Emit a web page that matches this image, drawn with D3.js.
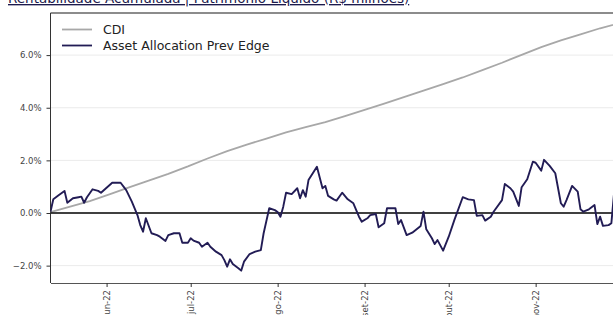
<!DOCTYPE html>
<html>
<head>
<meta charset="utf-8">
<script src="https://cdn.jsdelivr.net/npm/d3@7/dist/d3.min.js"></script>
<style>
    body { margin: 0; background: #fff; }
    svg { display: block; font-family: "DejaVu Sans", Verdana, sans-serif; }
</style>
</head>
<body>
<svg id="chart" width="613" height="315"></svg>
<script>
const title = "Rentabilidade Acumulada | Patrimônio Líquido (R$ milhões)";
const seriesNames = ["CDI", "Asset Allocation Prev Edge"];

// CDI, weekly reading
const cdiDates = ["2022-05-12", "2022-05-19", "2022-05-26", "2022-06-02", "2022-06-09", "2022-06-16",
    "2022-06-23", "2022-06-30", "2022-07-07", "2022-07-14", "2022-07-21", "2022-07-28", "2022-08-04",
    "2022-08-11", "2022-08-18", "2022-08-25", "2022-09-01", "2022-09-08", "2022-09-15", "2022-09-22",
    "2022-09-29", "2022-10-06", "2022-10-13", "2022-10-20", "2022-10-27", "2022-11-03", "2022-11-10",
    "2022-11-17", "2022-11-24", "2022-12-01"];
const cdiValues = [0.03, 0.24, 0.45, 0.71, 0.97, 1.23, 1.49, 1.77, 2.07, 2.35, 2.60, 2.83, 3.06,
    3.26, 3.45, 3.68, 3.92, 4.16, 4.40, 4.65, 4.90, 5.15, 5.43, 5.71, 6.01, 6.30, 6.56, 6.79, 7.02, 7.22];

// Asset Allocation Prev Edge
const fundDates = ["2022-05-12", "2022-05-13", "2022-05-15", "2022-05-17", "2022-05-18", "2022-05-20",
    "2022-05-22", "2022-05-23", "2022-05-24", "2022-05-25", "2022-05-27", "2022-05-29", "2022-05-30",
    "2022-06-01", "2022-06-03", "2022-06-04", "2022-06-06", "2022-06-08", "2022-06-10", "2022-06-12",
    "2022-06-13", "2022-06-14", "2022-06-15", "2022-06-17", "2022-06-19", "2022-06-20", "2022-06-22",
    "2022-06-23", "2022-06-25", "2022-06-27", "2022-06-28", "2022-06-30", "2022-07-01", "2022-07-02",
    "2022-07-04", "2022-07-05", "2022-07-07", "2022-07-08", "2022-07-10", "2022-07-12", "2022-07-13",
    "2022-07-14", "2022-07-15", "2022-07-16", "2022-07-18", "2022-07-19", "2022-07-20", "2022-07-22",
    "2022-07-24", "2022-07-26", "2022-07-27", "2022-07-29", "2022-07-31", "2022-08-01", "2022-08-02",
    "2022-08-03", "2022-08-04", "2022-08-06", "2022-08-08", "2022-08-09", "2022-08-10", "2022-08-11",
    "2022-08-12", "2022-08-15", "2022-08-17", "2022-08-18", "2022-08-19", "2022-08-21", "2022-08-22",
    "2022-08-24", "2022-08-26", "2022-08-28", "2022-08-30", "2022-08-31", "2022-09-02", "2022-09-03",
    "2022-09-05", "2022-09-06", "2022-09-08", "2022-09-09", "2022-09-12", "2022-09-13", "2022-09-14",
    "2022-09-16", "2022-09-18", "2022-09-21", "2022-09-22", "2022-09-23", "2022-09-25", "2022-09-26",
    "2022-09-27", "2022-09-29", "2022-10-01", "2022-10-03", "2022-10-06", "2022-10-08", "2022-10-10",
    "2022-10-11", "2022-10-13", "2022-10-14", "2022-10-16", "2022-10-17", "2022-10-20", "2022-10-21",
    "2022-10-23", "2022-10-24", "2022-10-26", "2022-10-27", "2022-10-29", "2022-10-31", "2022-11-01",
    "2022-11-03", "2022-11-04", "2022-11-06", "2022-11-08", "2022-11-10", "2022-11-11", "2022-11-12",
    "2022-11-14", "2022-11-16", "2022-11-17", "2022-11-18", "2022-11-20", "2022-11-22", "2022-11-23",
    "2022-11-24", "2022-11-25", "2022-11-27", "2022-11-28", "2022-11-29", "2022-11-30"];
const fundValues = [0.05, 0.52, 0.68, 0.84, 0.39, 0.56, 0.60, 0.62, 0.39, 0.60, 0.90, 0.84, 0.77,
    0.96, 1.15, 1.15, 1.15, 0.87, 0.43, -0.08, -0.46, -0.71, -0.20, -0.77, -0.84, -0.90, -1.06,
    -0.84, -0.77, -0.77, -1.13, -1.13, -0.96, -1.05, -1.13, -1.28, -1.13, -1.28, -1.47, -1.60, -1.79,
    -2.04, -1.76, -1.94, -2.10, -2.19, -1.85, -1.56, -1.47, -1.41, -0.77, 0.18, 0.11, 0.04, -0.14,
    0.24, 0.77, 0.72, 0.94, 0.56, 0.87, 0.62, 1.25, 1.76, 0.94, 1.03, 0.65, 0.52, 0.47,
    0.77, 0.52, 0.37, -0.14, -0.33, -0.20, -0.08, -0.04, -0.54, -0.39, 0.18, 0.18, -0.42, -0.27,
    -0.84, -0.75, -0.49, 0.05, -0.62, -0.96, -1.18, -1.03, -1.43, -0.90, -0.27, 0.60, 0.52, 0.49,
    -0.11, -0.08, -0.29, -0.14, 0.05, 0.49, 1.10, 0.94, 0.81, 0.27, 0.98, 1.28, 1.95, 1.91,
    1.61, 2.02, 1.79, 1.51, 0.37, 0.24, 0.49, 1.03, 0.81, 0.14, 0.05, 0.14, 0.30, -0.42,
    -0.14, -0.49, -0.46, -0.39, 0.80, 1.30];

const yTicks = [-2, 0, 2, 4, 6];
const monthTicks = ["2022-06-01", "2022-07-01", "2022-08-01", "2022-09-01", "2022-10-01", "2022-11-01"];
const monthLabels = ["jun-22", "jul-22", "ago-22", "set-22", "out-22", "nov-22"];

const parseDate = d3.timeParse("%Y-%m-%d");
const cdi = cdiDates.map((d, i) => ({ date: parseDate(d), value: cdiValues[i] }));
const fund = fundDates.map((d, i) => ({ date: parseDate(d), value: fundValues[i] }));

const plotLeft = 50.5, plotRight = 613, plotTop = 13, plotBottom = 283;

const svg = d3.select("#chart");

const x = d3.scaleTime()
    .domain([parseDate("2022-05-12"), new Date(2022, 10, 28, 14)])
    .range([plotLeft, plotRight]);

const y = d3.scaleLinear()
    .domain([-2.66, 7.6])
    .range([plotBottom, plotTop]);

// title (cropped at the top)
svg.append("text")
    .attr("x", 8)
    .attr("y", 3)
    .attr("fill", "#1c1a4d")
    .attr("font-size", 13.5)
    .attr("text-decoration", "underline")
    .text(title);

svg.append("defs").append("clipPath")
    .attr("id", "plot")
    .append("rect")
    .attr("x", plotLeft)
    .attr("y", plotTop)
    .attr("width", plotRight - plotLeft)
    .attr("height", plotBottom - plotTop);

// gridlines
svg.append("g")
    .selectAll("line")
    .data(yTicks.filter(t => t !== 0))
    .join("line")
    .attr("x1", plotLeft)
    .attr("x2", plotRight)
    .attr("y1", d => y(d))
    .attr("y2", d => y(d))
    .attr("stroke", "#ebebeb")
    .attr("stroke-width", 1);

// frame top
svg.append("line")
    .attr("x1", plotLeft).attr("x2", plotRight)
    .attr("y1", plotTop).attr("y2", plotTop)
    .attr("stroke", "#8c8c8c")
    .attr("stroke-width", 2);

// y axis
const yAxis = svg.append("g")
    .attr("transform", `translate(${plotLeft},0)`)
    .call(d3.axisLeft(y).tickValues(yTicks).tickSize(4).tickSizeOuter(0)
        .tickFormat(d => d3.format(".1f")(d) + "%"));
yAxis.select(".domain").attr("stroke", "#333").attr("d", `M0,${plotTop}V${plotBottom}`);
yAxis.selectAll(".tick line").attr("stroke", "#333");
yAxis.selectAll(".tick text")
    .attr("fill", "#444")
    .attr("font-family", "DejaVu Sans, sans-serif")
    .attr("font-size", 8.5)
    .attr("x", -9);

// x axis
const xAxis = svg.append("g")
    .attr("transform", `translate(0,${plotBottom})`)
    .call(d3.axisBottom(x).tickValues(monthTicks.map(parseDate)).tickSize(4).tickSizeOuter(0)
        .tickFormat((d, i) => monthLabels[i]));
xAxis.select(".domain").attr("stroke", "#555");
xAxis.selectAll(".tick line").attr("stroke", "#333");
xAxis.selectAll(".tick text")
    .attr("fill", "#444")
    .attr("font-family", "DejaVu Sans, sans-serif")
    .attr("font-size", 8.5)
    .attr("transform", "rotate(-90)")
    .attr("x", -7)
    .attr("y", 0)
    .attr("dy", "0.32em")
    .style("text-anchor", "end");

const line = d3.line()
    .x(d => x(d.date))
    .y(d => y(d.value));

const plot = svg.append("g").attr("clip-path", "url(#plot)");

plot.append("path")
    .datum(cdi)
    .attr("fill", "none")
    .attr("stroke", "#a8a8a8")
    .attr("stroke-width", 1.8)
    .attr("d", line);

// zero line
plot.append("line")
    .attr("x1", plotLeft).attr("x2", plotRight)
    .attr("y1", y(0)).attr("y2", y(0))
    .attr("stroke", "#000")
    .attr("stroke-width", 1.5);

plot.append("path")
    .datum(fund)
    .attr("fill", "none")
    .attr("stroke", "#221c55")
    .attr("stroke-width", 1.9)
    .attr("stroke-linejoin", "round")
    .attr("d", line);

// legend
const legendColors = ["#a8a8a8", "#221c55"];
const legend = svg.append("g")
    .selectAll("g")
    .data(seriesNames)
    .join("g")
    .attr("transform", (d, i) => `translate(62,${29.5 + i * 16})`);

legend.append("line")
    .attr("x1", 0).attr("x2", 30)
    .attr("stroke", (d, i) => legendColors[i])
    .attr("stroke-width", 1.8);

legend.append("text")
    .attr("x", 41)
    .attr("dy", "0.35em")
    .attr("font-size", 12.5)
    .attr("fill", "#222")
    .text(d => d);
</script>
</body>
</html>
